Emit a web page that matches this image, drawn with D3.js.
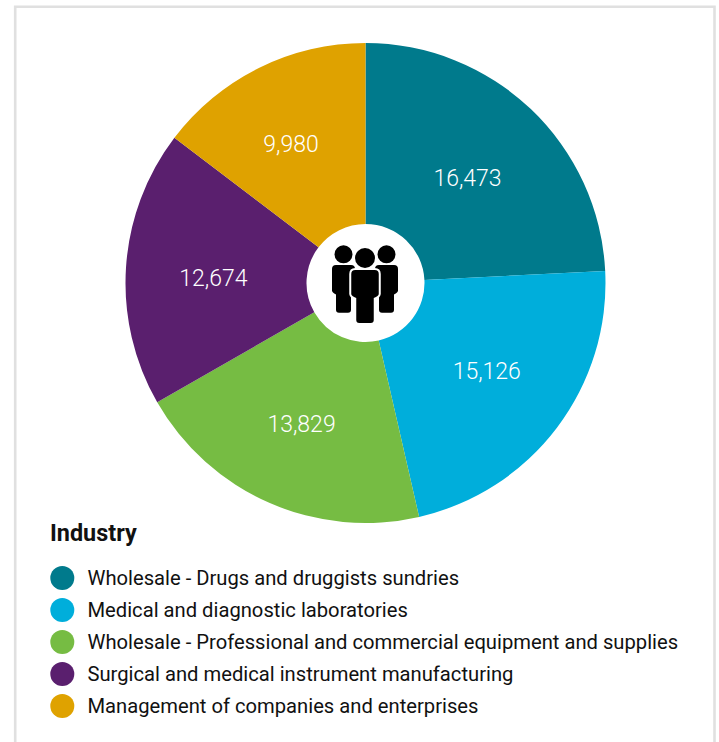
<!DOCTYPE html>
<html lang="en">
<head>
    <meta charset="UTF-8">
    <title>Industry</title>
    <script src="https://d3js.org/d3.v7.min.js"></script>
    <style>
        html, body { margin: 0; padding: 0; background: #fff; }
        svg { display: block; }
        text { font-family: Roboto, sans-serif; }
    </style>
</head>
<body>
<div id="chart"></div>
<script>
    const industries = [
        "Wholesale - Drugs and druggists sundries",
        "Medical and diagnostic laboratories",
        "Wholesale - Professional and commercial equipment and supplies",
        "Surgical and medical instrument manufacturing",
        "Management of companies and enterprises"
    ];
    const counts = [16473, 15126, 13829, 12674, 9980];
    const colors = ["#007a8c", "#00aedb", "#76bc43", "#5a1f6e", "#dfa200"];

    const width = 719, height = 742;
    const cx = 365.5, cy = 283, outer = 240, inner = 59;

    // small hand nudges so the labels sit where the original has them
    const labelNudge = [[-1, 3], [2, -2], [-4, 4], [-3, 4], [-8, -5]];

    const svg = d3.select("#chart").append("svg")
        .attr("width", width)
        .attr("height", height);

    // card border, open at the bottom
    svg.append("path")
        .attr("d", `M15.2,${height} V6.8 H714.5 V${height}`)
        .attr("fill", "none")
        .attr("stroke", "#e0e0e0")
        .attr("stroke-width", 2.6);

    const pie = d3.pie().sort(null).value(i => counts[i]);
    const arc = d3.arc().innerRadius(inner).outerRadius(outer);
    const slices = pie(d3.range(counts.length));

    const g = svg.append("g").attr("transform", `translate(${cx},${cy})`);

    g.selectAll("path")
        .data(slices)
        .enter()
        .append("path")
        .attr("d", arc)
        .attr("fill", d => colors[d.data]);

    g.selectAll("text")
        .data(slices)
        .enter()
        .append("text")
        .attr("transform", d => {
            const [x, y] = arc.centroid(d);
            const [nx, ny] = labelNudge[d.data];
            return `translate(${x + nx},${y + ny})`;
        })
        .attr("text-anchor", "middle")
        .attr("dy", "0.36em")
        .attr("font-size", 23)
        .attr("font-weight", 300)
        .attr("fill", "#fff")
        .text(d => d3.format(",")(counts[d.data]));

    // people icon in the hole
    const icon = g.append("g")
        .attr("fill", "#000")
        .attr("transform", "translate(-0.5,0)");

    function person(parent, x, headY, headR, bodyW, armBottom, legW, legBottom, bodyTop) {
        parent.append("circle").attr("cx", x).attr("cy", headY).attr("r", headR);
        const p = d3.path();
        const hw = bodyW / 2, lw = legW / 2, r = 4;
        p.moveTo(x - hw + r, bodyTop);
        p.lineTo(x + hw - r, bodyTop);
        p.quadraticCurveTo(x + hw, bodyTop, x + hw, bodyTop + r);
        p.lineTo(x + hw, armBottom - 2);
        p.quadraticCurveTo(x + hw, armBottom, x + lw, armBottom + 2);
        p.lineTo(x + lw, legBottom - 3);
        p.quadraticCurveTo(x + lw, legBottom, x + lw - 3, legBottom);
        p.lineTo(x - lw + 3, legBottom);
        p.quadraticCurveTo(x - lw, legBottom, x - lw, legBottom - 3);
        p.lineTo(x - lw, armBottom + 2);
        p.quadraticCurveTo(x - hw, armBottom, x - hw, armBottom - 2);
        p.lineTo(x - hw, bodyTop + r);
        p.quadraticCurveTo(x - hw, bodyTop, x - hw + r, bodyTop);
        p.closePath();
        return parent.append("path").attr("d", p.toString());
    }

    person(icon, -21.5, -28.7, 9, 23, 9.5, 15, 29.7, -18);
    person(icon, 21.5, -28.7, 9, 23, 9.5, 15, 29.7, -18);
    person(icon, 0, -25, 10, 27.5, 13, 17.5, 40, -13)
        .attr("stroke", "#fff")
        .attr("stroke-width", 4)
        .attr("paint-order", "stroke");

    // legend
    svg.append("text")
        .attr("x", 50)
        .attr("y", 541)
        .attr("font-size", 23.4)
        .attr("font-weight", 700)
        .attr("fill", "#111")
        .text("Industry");

    const legendY = d3.scalePoint().domain(d3.range(industries.length)).range([578, 706]);

    const rows = svg.selectAll(".row")
        .data(industries)
        .enter()
        .append("g")
        .attr("class", "row")
        .attr("transform", (d, i) => `translate(0,${legendY(i)})`);

    rows.append("circle")
        .attr("cx", 62.3)
        .attr("r", 12)
        .attr("fill", (d, i) => colors[i]);

    rows.append("text")
        .attr("x", 87.5)
        .attr("dy", "0.33em")
        .attr("font-size", 20.2)
        .attr("fill", "#111")
        .text(d => d);
</script>
</body>
</html>
